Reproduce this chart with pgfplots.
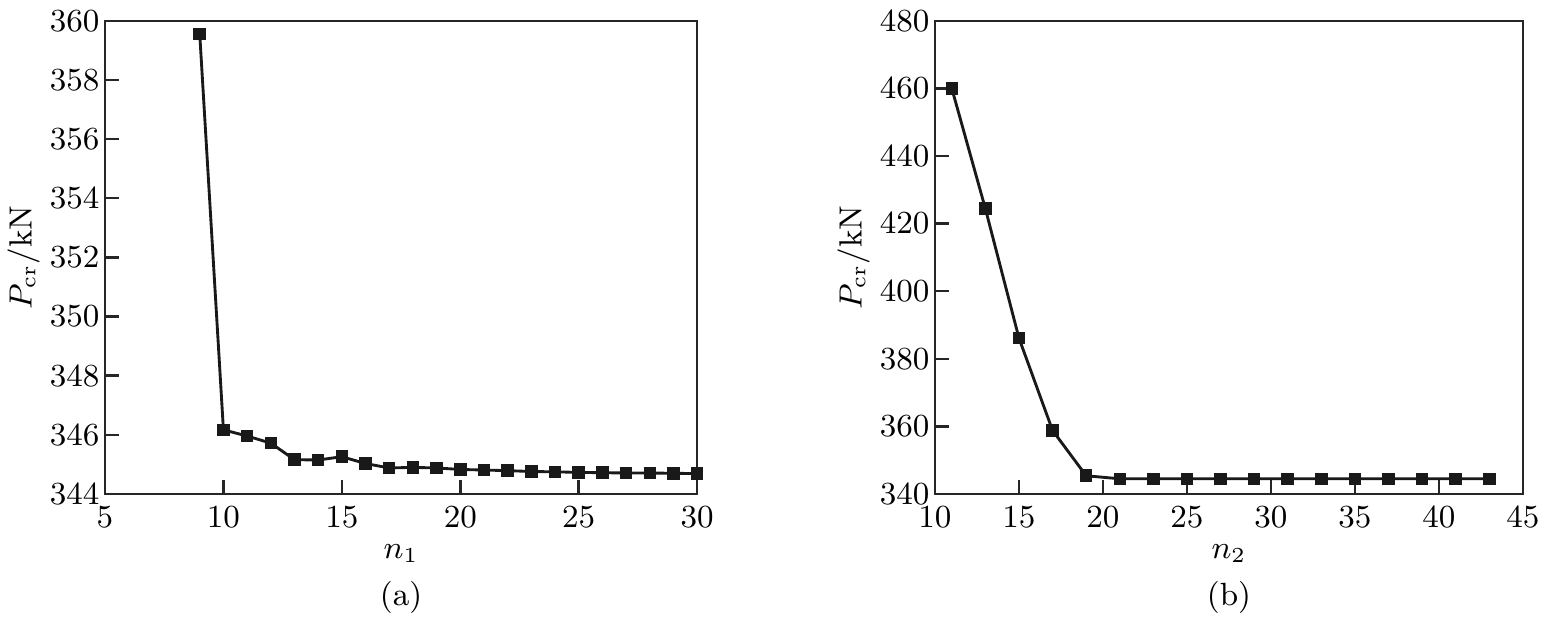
\documentclass[border=0pt]{standalone}
\usepackage{pgfplots}
\pgfplotsset{compat=1.18}
\begin{document}
\begin{tikzpicture}[font=\small]
\useasboundingbox (-29.4pt,-35.84pt) rectangle (404.6pt,138.32pt);
\pgfplotsset{
  myaxis/.style={
    scale only axis,
    height=132.5pt,
    tick pos=left, tick align=inside,
    major tick length=4pt,
    axis line style={line width=0.7pt, black!85},
    every tick/.style={line width=0.7pt, black!85},
    tick label style={font=\small},
    label style={font=\small},
    yticklabel style={xshift=2pt},
    ylabel={$P_{\mathrm{cr}}/\mathrm{kN}$},
    xlabel style={yshift=2pt},
    ylabel style={yshift=-4pt},
  },
  myplot/.style={line width=0.8pt, black!90, mark=square*, mark size=1.35pt, mark options={solid, fill=black!90, draw=black!90}},
}
\begin{axis}[myaxis, at={(0pt,0pt)}, anchor=south west, width=165.8pt,
  xmin=5, xmax=30, ymin=344, ymax=360,
  xtick={5,10,...,30}, ytick={344,346,...,360},
  xlabel={$n_1$}]
\addplot[myplot] coordinates {
(9,359.55) (10,346.17) (11,345.96) (12,345.72) (13,345.16) (14,345.15) (15,345.26) (16,345.03) (17,344.88) (18,344.90) (19,344.88) (20,344.83) (21,344.81) (22,344.79) (23,344.76) (24,344.75) (25,344.73) (26,344.72) (27,344.71) (28,344.71) (29,344.70) (30,344.69)};
\end{axis}
\begin{axis}[myaxis, at={(232.4pt,0pt)}, anchor=south west, width=164.6pt,
  xmin=10, xmax=45, ymin=340, ymax=480,
  xtick={10,15,...,45}, ytick={340,360,...,480},
  xlabel={$n_2$}]
\addplot[myplot] coordinates {
(11,460.0) (13,424.4) (15,386.1) (17,358.8) (19,345.4) (21,344.5) (23,344.5) (25,344.5) (27,344.5) (29,344.5) (31,344.5) (33,344.5) (35,344.5) (37,344.5) (39,344.5) (41,344.5) (43,344.5)};
\end{axis}
\node[anchor=center, font=\small] at (82.9pt,-29pt) {(a)};
\node[anchor=center, font=\small] at (314.7pt,-29pt) {(b)};
\end{tikzpicture}
\end{document}
